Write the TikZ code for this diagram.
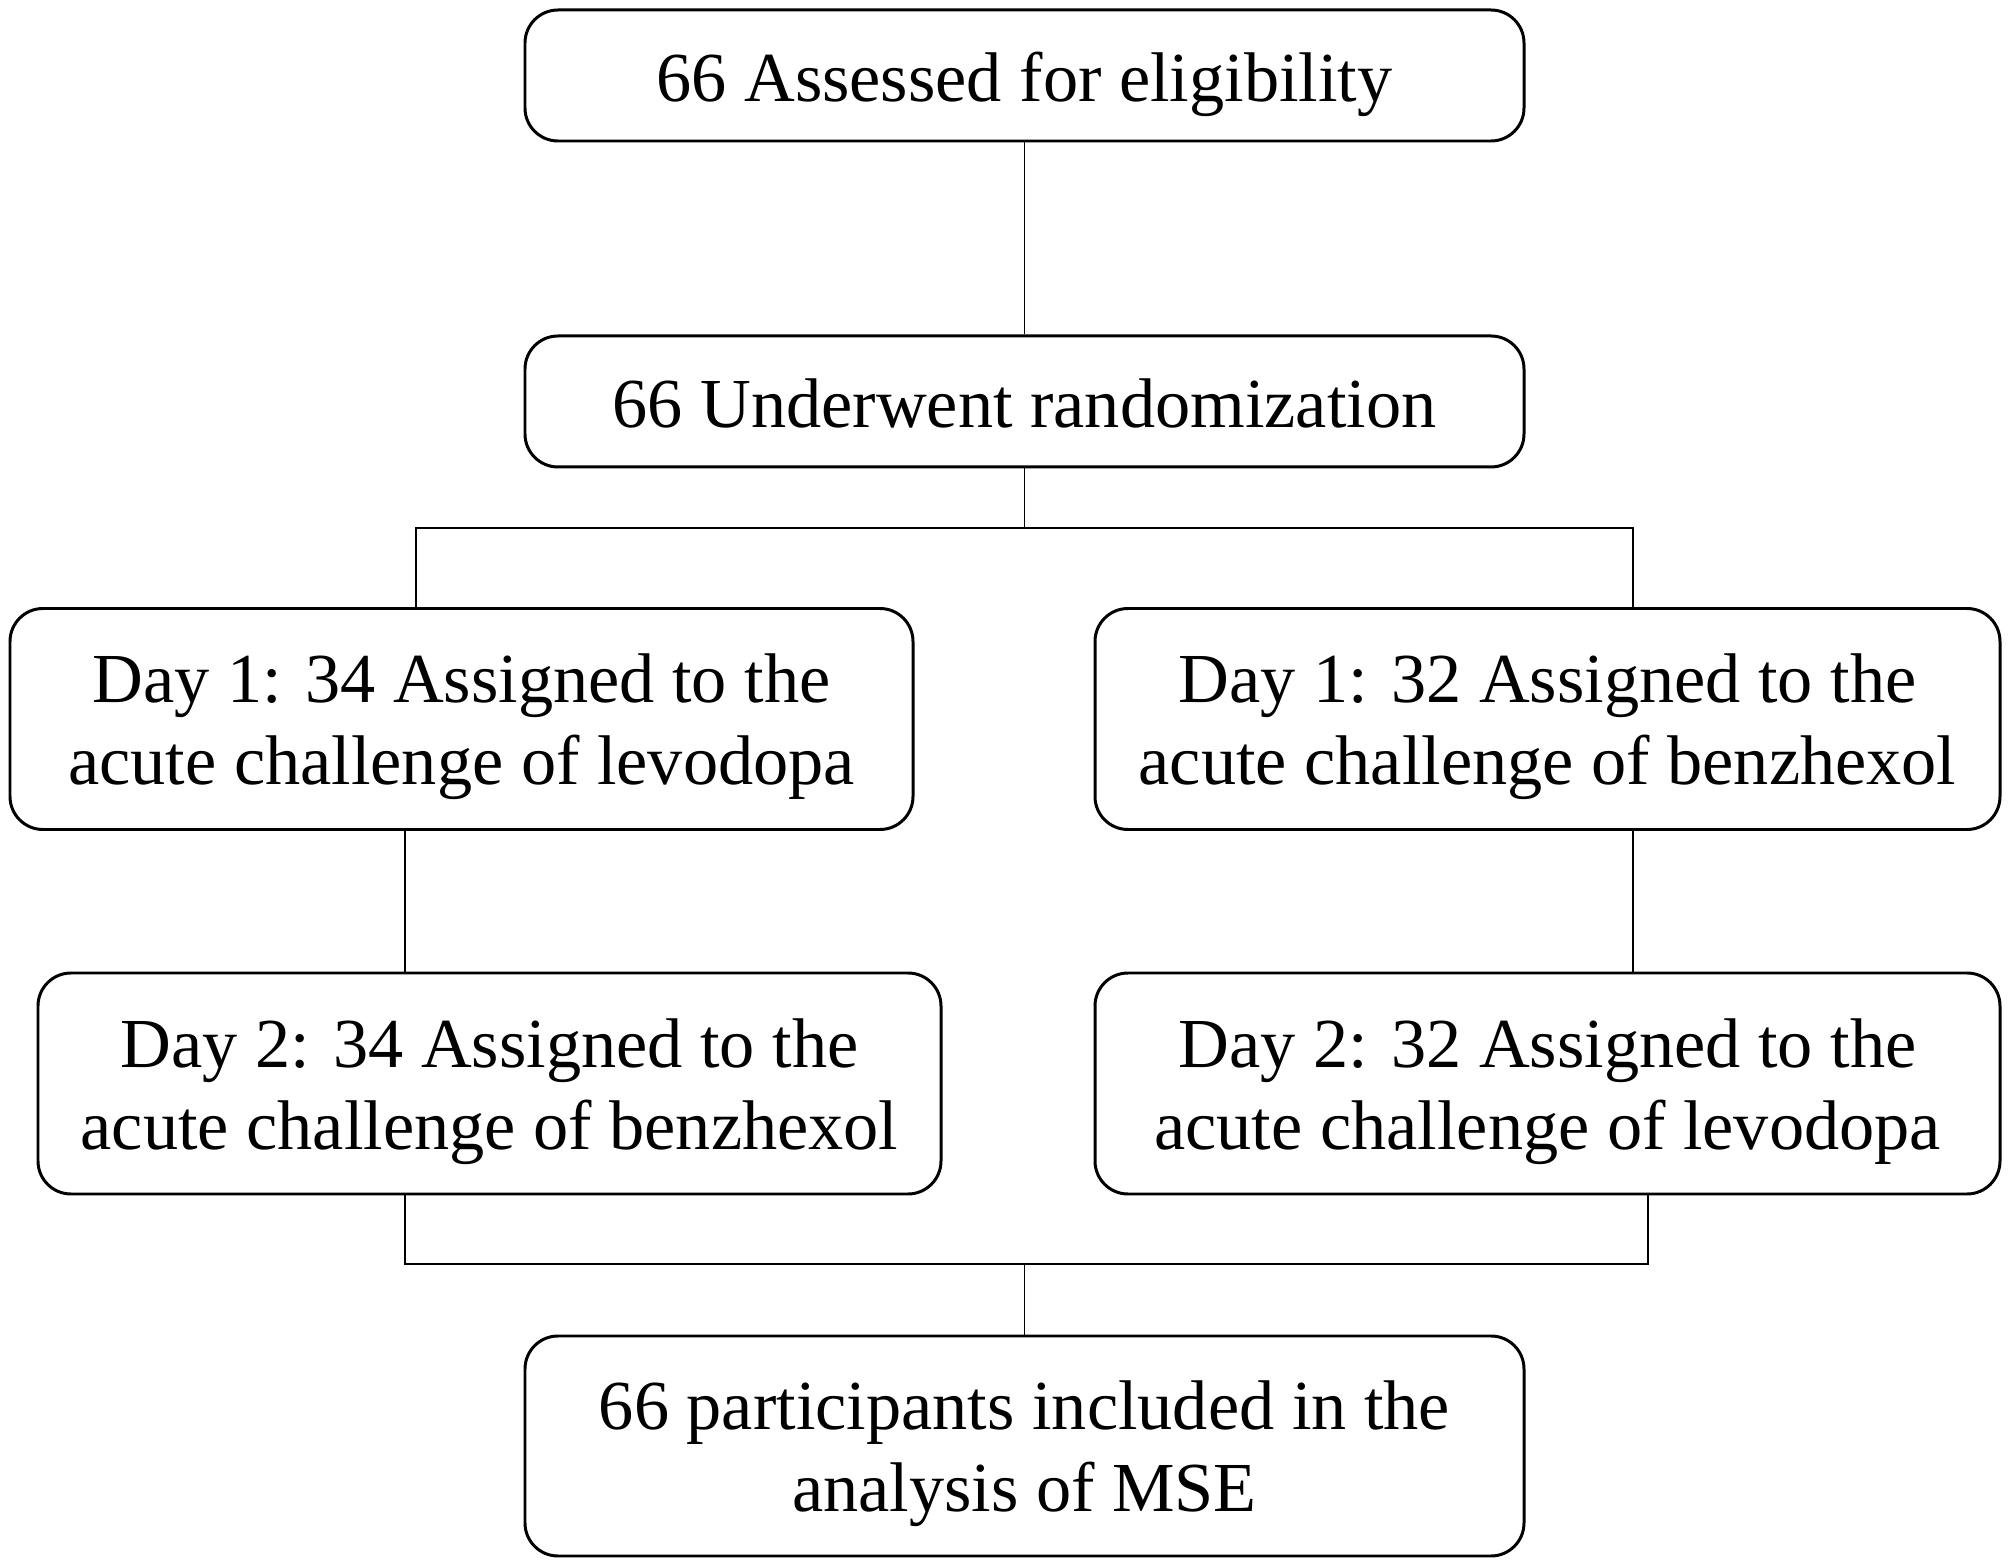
\documentclass[tikz,border=0pt]{standalone}
\usepackage{fontspec}
\setmainfont{Liberation Serif}
\usepackage{xcolor}
\usepackage{tikz}
\usetikzlibrary{positioning}
\newcommand{\linestrut}{\rule[-4.2pt]{0pt}{23.2pt}}
\newcommand{\pairstrut}{\rule[-4.2pt]{0pt}{45.9pt}}

\begin{document}
\begin{tikzpicture}[every node/.style={font=\fontsize{20}{23.3}\selectfont},
    stage/.style={draw=black,line width=0.85pt,rounded corners=0.33cm,inner sep=0pt,minimum width=9.99cm,minimum height=1.31cm,align=center,
      execute at begin node=\linestrut,execute at end node=\linestrut},
    twoline/.style={stage,minimum height=2.2cm,execute at begin node=\pairstrut},
    arm/.style={twoline,minimum width=9.03cm,minimum height=2.21cm},
    link/.style={line width=0.5pt}]
    \useasboundingbox (0,0) rectangle (20.08,-15.65);
    \node[stage] (assessed) at (10.245,-0.755) {66 Assessed for eligibility};
    \node[stage,below=1.92cm of assessed] (random) {66 Underwent randomization};
    \node[arm] (dayAL) at (4.615,-7.19) {Day 1: 34 Assigned to the\\acute challenge of levodopa};
    \node[arm,minimum width=9.05cm] (dayAR) at (15.475,-7.19) {Day 1: 32 Assigned to the\\acute challenge of benzhexol};
    \node[arm] (dayBL) at (4.895,-10.835) {Day 2: 34 Assigned to the\\acute challenge of benzhexol};
    \node[arm,minimum width=9.05cm] (dayBR) at (15.475,-10.835) {Day 2: 32 Assigned to the\\acute challenge of levodopa};
    \node[twoline] (analysed) at (10.245,-14.46) {66 participants included in the\\analysis of MSE};
    % split and merge points
    \coordinate (splitL) at (4.16,-5.28);
    \coordinate (splitR) at (16.33,-5.28);
    \coordinate (mergeL) at (4.05,-12.64);
    \coordinate (mergeR) at (16.48,-12.64);
    \draw[link] (assessed) -- (random);
    \draw[link] (random) -- (random |- splitL);
    \draw[link] (splitL |- dayAL.north) -- (splitL) -- (splitR) -- (splitR |- dayAR.north);
    \draw[link] (mergeL |- dayAL.south) -- (mergeL |- dayBL.north);
    \draw[link] (splitR |- dayAR.south) -- (splitR |- dayBR.north);
    \draw[link] (mergeL |- dayBL.south) -- (mergeL) -- (mergeR) -- (mergeR |- dayBR.south);
    \draw[link] (analysed |- mergeL) -- (analysed);
  \end{tikzpicture}
\end{document}
